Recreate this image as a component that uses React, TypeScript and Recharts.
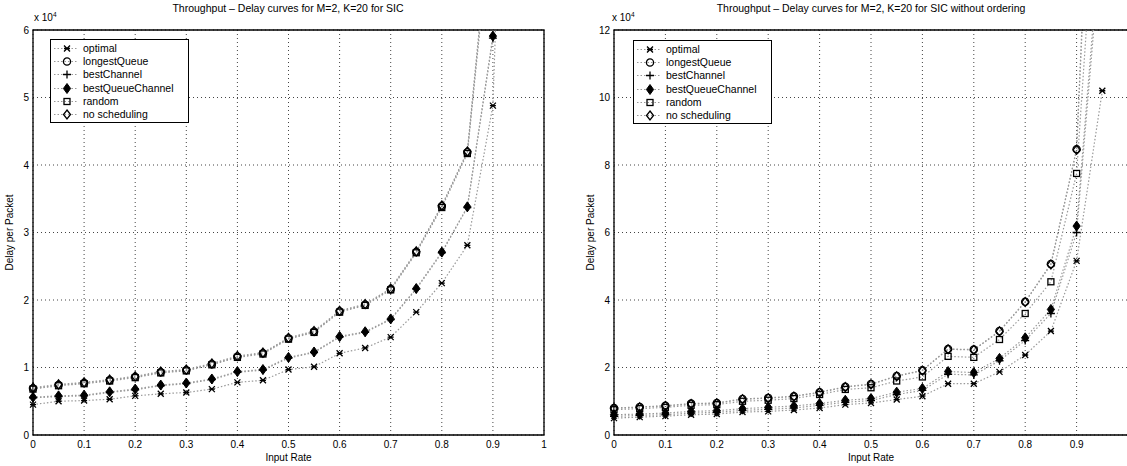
import React from "react";
import { LineChart, Line, XAxis, YAxis, CartesianGrid, ReferenceArea } from "recharts";

const rates = [0, 0.05, 0.1, 0.15, 0.2, 0.25, 0.3, 0.35, 0.4, 0.45, 0.5, 0.55, 0.6, 0.65, 0.7, 0.75, 0.8, 0.85, 0.9, 0.95];
const sicXTicks = [0, 0.1, 0.2, 0.3, 0.4, 0.5, 0.6, 0.7, 0.8, 0.9, 1];
const ordXTicks = [0, 0.1, 0.2, 0.3, 0.4, 0.5, 0.6, 0.7, 0.8, 0.9];
const sicTicks = [0, 1, 2, 3, 4, 5, 6];
const ordTicks = [0, 2, 4, 6, 8, 10, 12];

// SIC, delay in units of 1e4
const sicOptimal = [0.45, 0.5, 0.51, 0.53, 0.58, 0.61, 0.63, 0.68, 0.78, 0.81, 0.97, 1.01, 1.21, 1.29, 1.45, 1.82, 2.25, 2.81, 4.88, 16];
const sicLongestQueue = [0.69, 0.74, 0.77, 0.81, 0.86, 0.93, 0.96, 1.05, 1.16, 1.21, 1.43, 1.53, 1.83, 1.93, 2.16, 2.71, 3.39, 4.19, 8.0, 40];
const sicBestChannel = [0.55, 0.57, 0.58, 0.63, 0.67, 0.73, 0.76, 0.82, 0.93, 0.96, 1.14, 1.22, 1.45, 1.52, 1.71, 2.16, 2.7, 3.37, 5.88, 29];
const sicBestQueueChannel = [0.56, 0.58, 0.59, 0.64, 0.68, 0.74, 0.77, 0.83, 0.94, 0.97, 1.15, 1.23, 1.46, 1.53, 1.72, 2.17, 2.71, 3.38, 5.91, 30];
const sicRandom = [0.68, 0.73, 0.76, 0.8, 0.85, 0.92, 0.95, 1.04, 1.15, 1.2, 1.42, 1.52, 1.82, 1.92, 2.15, 2.7, 3.37, 4.17, 7.9, 38];
const sicNoScheduling = [0.7, 0.75, 0.78, 0.82, 0.87, 0.94, 0.97, 1.06, 1.17, 1.22, 1.44, 1.54, 1.84, 1.94, 2.17, 2.72, 3.4, 4.2, 8.1, 41];

// SIC without ordering
const ordOptimal = [0.5, 0.53, 0.56, 0.6, 0.62, 0.68, 0.7, 0.74, 0.8, 0.9, 0.95, 1.05, 1.15, 1.52, 1.52, 1.87, 2.37, 3.08, 5.16, 10.2];
const ordLongestQueue = [0.8, 0.83, 0.87, 0.93, 0.95, 1.07, 1.1, 1.15, 1.27, 1.43, 1.51, 1.75, 1.92, 2.55, 2.53, 3.08, 3.95, 5.07, 8.47, 26];
const ordBestChannel = [0.55, 0.58, 0.6, 0.65, 0.67, 0.73, 0.76, 0.8, 0.88, 0.97, 1.02, 1.2, 1.32, 1.8, 1.78, 2.2, 2.8, 3.6, 6.0, 15];
const ordBestQueueChannel = [0.6, 0.62, 0.65, 0.7, 0.72, 0.78, 0.82, 0.86, 0.93, 1.03, 1.08, 1.27, 1.38, 1.88, 1.85, 2.27, 2.88, 3.72, 6.19, 15.5];
const ordRandom = [0.75, 0.78, 0.82, 0.88, 0.9, 1.0, 1.03, 1.08, 1.2, 1.35, 1.4, 1.6, 1.72, 2.33, 2.3, 2.83, 3.6, 4.54, 7.75, 19];
const ordNoScheduling = [0.79, 0.82, 0.86, 0.92, 0.94, 1.06, 1.09, 1.14, 1.26, 1.42, 1.5, 1.74, 1.91, 2.54, 2.52, 3.07, 3.94, 5.05, 8.45, 25];

const seriesNames = ["optimal", "longestQueue", "bestChannel", "bestQueueChannel", "random", "no scheduling"];
const shapes = ["x", "circle", "plus", "filledDiamond", "square", "diamond"];

const font = '"Liberation Sans", Arial, Helvetica, sans-serif';

function Mark({ shape, cx, cy }: { shape: string; cx: number; cy: number }) {
  const s = { stroke: "#000", strokeWidth: 1.3, fill: "none" };
  switch (shape) {
    case "x":
      return (
        <path
          d={`M${cx - 3},${cy - 3}L${cx + 3},${cy + 3}M${cx - 3},${cy + 3}L${cx + 3},${cy - 3}M${cx - 3},${cy}L${cx + 3},${cy}`}
          {...s}
        />
      );
    case "circle":
      return <circle cx={cx} cy={cy} r={3.6} {...s} />;
    case "plus":
      return <path d={`M${cx - 4},${cy}L${cx + 4},${cy}M${cx},${cy - 4}L${cx},${cy + 4}`} {...s} />;
    case "filledDiamond":
      return <path d={`M${cx},${cy - 5}L${cx + 3.6},${cy}L${cx},${cy + 5}L${cx - 3.6},${cy}Z`} stroke="#000" fill="#000" />;
    case "square":
      return <rect x={cx - 3} y={cy - 3} width={6} height={6} {...s} />;
    default:
      return <path d={`M${cx},${cy - 4.5}L${cx + 3.5},${cy}L${cx},${cy + 4.5}L${cx - 3.5},${cy}Z`} {...s} />;
  }
}

function LegendBox({ left, top }: { left: number; top: number }) {
  return (
    <div
      style={{
        position: "absolute",
        left,
        top,
        border: "1px solid #000",
        background: "#fff",
        padding: "2px 0 1px 0",
        width: 137,
        fontFamily: font,
        fontSize: 10.5,
      }}
    >
      {seriesNames.map((n, i) => (
        <div key={n} style={{ display: "flex", alignItems: "center", height: 13.2 }}>
          <svg width={32} height={13}>
            <line x1={3} x2={27} y1={6.5} y2={6.5} stroke="#999" strokeDasharray="1.5 2" />
            <Mark shape={shapes[i]} cx={16} cy={6.5} />
          </svg>
          <span style={{ lineHeight: "13px" }}>{n}</span>
        </div>
      ))}
    </div>
  );
}

function Panel({
  series,
  yMax,
  yTicks,
  xTicks,
  width,
  yAxisWidth,
  rightMargin,
}: {
  series: number[][];
  yMax: number;
  yTicks: number[];
  xTicks: number[];
  width: number;
  yAxisWidth: number;
  rightMargin: number;
}) {
  const keys = ["s0", "s1", "s2", "s3", "s4", "s5"];
  const data = rates.map((x, i) => {
    const row: Record<string, number> = { x };
    series.forEach((s, k) => (row[keys[k]] = s[i]));
    return row;
  });
  const tickStyle = { fill: "#000", fontSize: 10, fontFamily: font };
  return (
    <LineChart width={width} height={466} data={data} margin={{ top: 30, right: rightMargin, left: 0, bottom: 0 }}>
      <CartesianGrid stroke="#444" strokeDasharray="1 3" />
      <XAxis
        dataKey="x"
        type="number"
        domain={[0, 1]}
        ticks={xTicks}
        tickFormatter={(v: number) => String(v)}
        tick={tickStyle}
        axisLine={false}
        tickLine={false}
        tickSize={3}
        tickMargin={3}
        height={31}
        label={{ value: "Input Rate", position: "insideBottom", offset: 5, style: { fontSize: 10, fontFamily: font, fill: "#000" } }}
      />
      <YAxis
        type="number"
        domain={[0, yMax]}
        ticks={yTicks}
        allowDataOverflow
        tick={tickStyle}
        axisLine={false}
        tickLine={false}
        tickSize={2}
        tickMargin={2}
        width={yAxisWidth}
        label={{
          value: "Delay per Packet",
          angle: -90,
          position: "insideLeft",
          offset: yAxisWidth - 24,
          style: { fontSize: 10, fontFamily: font, fill: "#000", textAnchor: "middle" },
        }}
      />
      <ReferenceArea x1={0} x2={1} y1={0} y2={yMax} fill="none" fillOpacity={0} stroke="#000" strokeWidth={1.3} />
      {series.map((_, k) => (
        <Line
          key={keys[k]}
          dataKey={keys[k]}
          stroke="#999"
          strokeWidth={1.2}
          strokeDasharray="1.5 2"
          isAnimationActive={false}
          dot={(p: any) => <Mark key={`${keys[k]}-${p.index}`} shape={shapes[k]} cx={p.cx} cy={p.cy} />}
          activeDot={false}
        />
      ))}
    </LineChart>
  );
}

const textStyle: React.CSSProperties = { position: "absolute", fontFamily: font, color: "#000", whiteSpace: "nowrap" };

export default function App() {
  return (
    <div style={{ position: "fixed", left: 0, top: 0, width: 1127, height: 466, overflow: "hidden", background: "#fff" }}>
      <div style={{ position: "absolute", left: 0, top: 0 }}>
        <Panel
          series={[sicOptimal, sicLongestQueue, sicBestChannel, sicBestQueueChannel, sicRandom, sicNoScheduling]}
          yMax={6}
          yTicks={sicTicks}
          xTicks={sicXTicks}
          width={560}
          yAxisWidth={33}
          rightMargin={16}
        />
      </div>
      <div style={{ position: "absolute", left: 560, top: 0 }}>
        <Panel
          series={[ordOptimal, ordLongestQueue, ordBestChannel, ordBestQueueChannel, ordRandom, ordNoScheduling]}
          yMax={12}
          yTicks={ordTicks}
          xTicks={ordXTicks}
          width={580}
          yAxisWidth={54}
          rightMargin={12}
        />
      </div>
      <LegendBox left={50} top={39} />
      <LegendBox left={633} top={40} />
      <div style={{ ...textStyle, left: 288, top: 2, transform: "translateX(-50%)", fontSize: 10.5 }}>
        Throughput – Delay curves for M=2, K=20 for SIC
      </div>
      <div style={{ ...textStyle, left: 871, top: 2, transform: "translateX(-50%)", fontSize: 10.5 }}>
        Throughput – Delay curves for M=2, K=20 for SIC without ordering
      </div>
      <div style={{ ...textStyle, left: 34, top: 11, fontSize: 10 }}>
        x 10<sup style={{ fontSize: 6.5 }}>4</sup>
      </div>
      <div style={{ ...textStyle, left: 612, top: 11, fontSize: 10 }}>
        x 10<sup style={{ fontSize: 6.5 }}>4</sup>
      </div>
    </div>
  );
}
